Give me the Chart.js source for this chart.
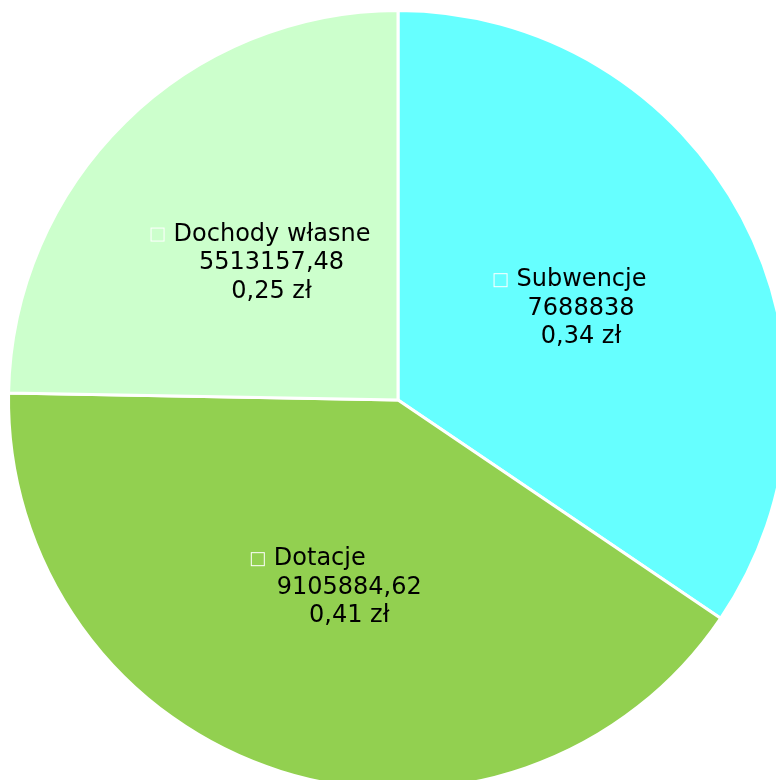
<!DOCTYPE html>
<html>
<head>
<meta charset="utf-8">
<script src="https://cdn.jsdelivr.net/npm/chart.js@4/dist/chart.umd.min.js"></script>
<style>
  html, body { margin: 0; padding: 0; background: #fff; overflow: hidden; width: 776px; height: 780px; }
  #wrap { position: absolute; left: 0; top: 0; width: 796px; height: 800px; }
</style>
</head>
<body>
<div id="wrap"><canvas id="pieChart"></canvas></div>
<script>
// dane
const labels = ['Subwencje', 'Dotacje', 'Dochody własne'];
const amounts = [7688838, 9105884.62, 5513157.48];
const amountTexts = ['7688838', '9105884,62', '5513157,48'];
const shareTexts = ['0,34 zł', '0,41 zł', '0,25 zł'];
const colors = ['#66FFFF', '#92D050', '#CCFFCC'];

// przesunięcia etykiet (pierwsza linia, pozostałe linie, pion)
const labelShift = [[0, 11, 0], [-31, 10, 2], [-1, 10, 2]];

// etykiety w środku wycinków
const sliceLabels = {
    id: 'sliceLabels',
    afterDatasetsDraw(chart) {
        const ctx = chart.ctx;
        const meta = chart.getDatasetMeta(0);
        ctx.save();
        ctx.font = '24px "DejaVu Sans"';
        ctx.fillStyle = '#000';
        ctx.textBaseline = 'middle';
        const lh = 28.5;
        meta.data.forEach((arc, i) => {
            const pos = arc.tooltipPosition();
            const [d1, d2, dy] = labelShift[i];
            const x = pos.x, y = pos.y + dy;
            // pierwsza linia: kwadracik + nazwa
            const box = 14, gap = 9;
            const w = ctx.measureText(labels[i]).width;
            const start = x + d1 - (box + gap + w) / 2;
            ctx.strokeStyle = '#fff';
            ctx.lineWidth = 1;
            ctx.strokeRect(start + 0.5, y - lh - box / 2 + 0.5, box - 1, box - 1);
            ctx.textAlign = 'left';
            ctx.fillText(labels[i], start + box + gap, y - lh);
            ctx.textAlign = 'center';
            ctx.fillText(amountTexts[i], x + d2, y);
            ctx.fillText(shareTexts[i], x + d2, y + lh);
        });
        ctx.restore();
    }
};

const ctx = document.getElementById('pieChart').getContext('2d');
const chart = new Chart(ctx, {
    type: 'pie',
    data: {
        labels: labels,
        datasets: [{
            data: amounts,
            backgroundColor: colors,
            borderColor: '#fff',
            borderWidth: 3,
        }]
    },
    options: {
        responsive: true,
        maintainAspectRatio: false,
        animation: false,
        layout: { padding: 7 },
        plugins: {
            legend: { display: false },
            tooltip: { enabled: false },
        },
    },
    plugins: [sliceLabels],
});
</script>
</body>
</html>
